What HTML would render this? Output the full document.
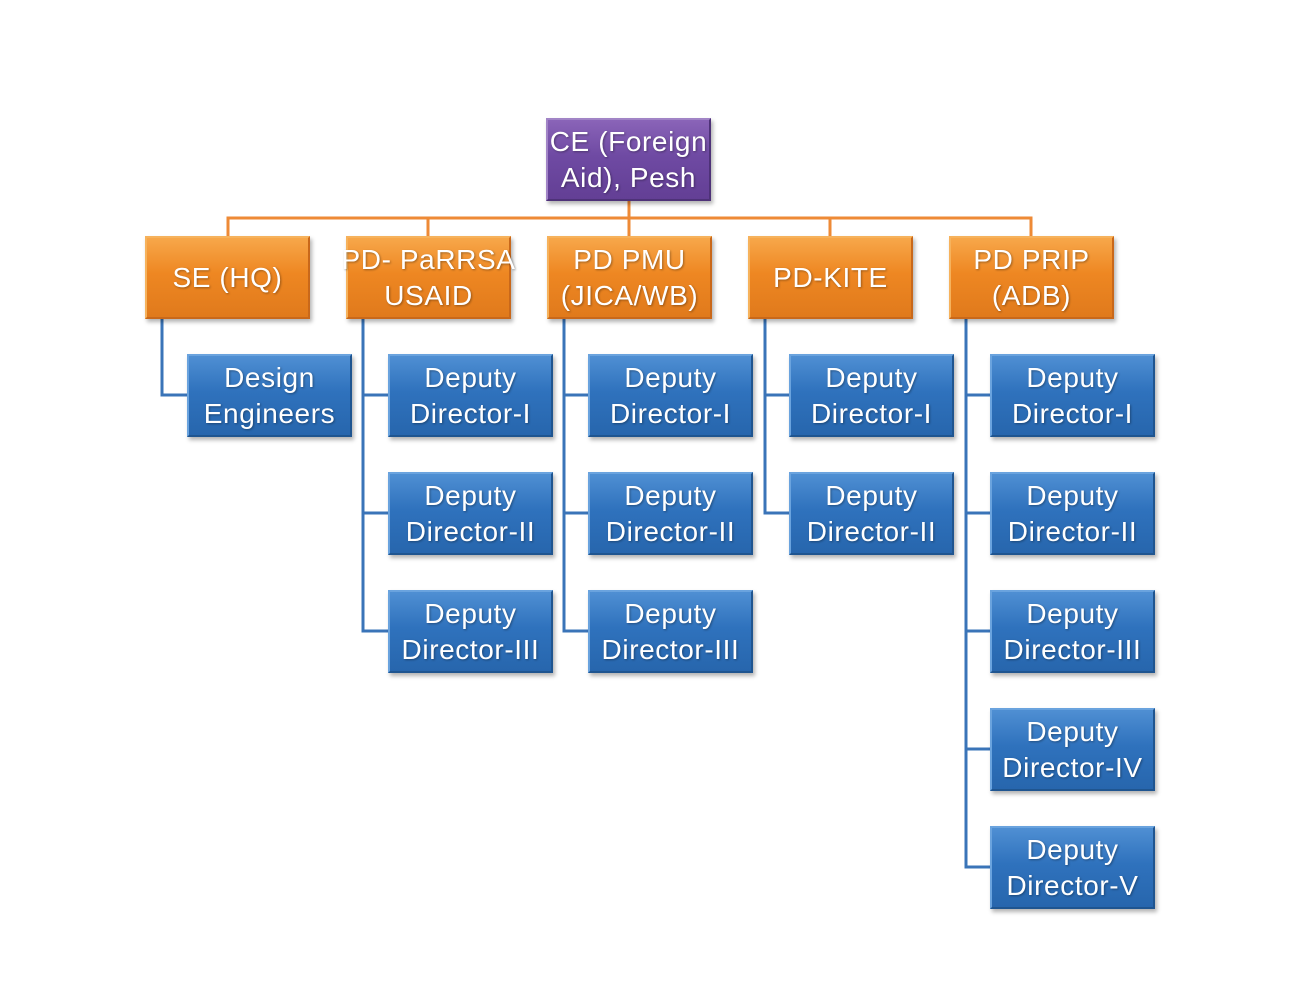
<!DOCTYPE html>
<html><head><meta charset="utf-8"><style>
html,body{margin:0;padding:0;background:#fff;}
body{width:1313px;height:1001px;position:relative;overflow:hidden;font-family:"Liberation Sans",sans-serif;}
.b{position:absolute;width:165px;height:83px;box-sizing:border-box;display:flex;align-items:center;justify-content:center;text-align:center;color:#fff;font-size:28px;line-height:36px;text-shadow:1px 1px 2px rgba(0,0,0,.35);box-shadow:2px 3px 4px rgba(0,0,0,.3);white-space:nowrap;letter-spacing:0.6px;padding-bottom:0px}
.o{background:linear-gradient(#f7a74a,#ee8722 45%,#e07a1c);border:2px solid #f6b25c;border-right-color:#c9681a;border-bottom-color:#c9681a}
.u{background:linear-gradient(#4f8fd3,#2f72bd 45%,#2766ad);border:2px solid #6aa3de;border-right-color:#1f5590;border-bottom-color:#1f5590}
.p{background:linear-gradient(#8a64b8,#6f4aa3 45%,#633f95);border:2px solid #a184c6;border-right-color:#4e3278;border-bottom-color:#4e3278}
</style></head><body>
<svg width="1313" height="1001" style="position:absolute;left:0;top:0">
<g stroke="#ee8a36" stroke-width="3" fill="none">
<path d="M629 201V218M228 236V218H1031V236M428 218V236M629 218V236M830 218V236"/>
</g>
<g stroke="#3a74b8" stroke-width="3" fill="none">
<path d="M162 319V395H187"/>
<path d="M363 319V631H388M363 395H388M363 513H388"/>
<path d="M564 319V631H588M564 395H588M564 513H588"/>
<path d="M765 319V513H789M765 395H789"/>
<path d="M966 319V867H990M966 395H990M966 513H990M966 631H990M966 749H990"/>
</g>
</svg>
<div class="b p" style="left:546px;top:118px">CE (Foreign<br>Aid), Pesh</div>
<div class="b o" style="left:145px;top:236px">SE (HQ)</div>
<div class="b o" style="left:346px;top:236px">PD- PaRRSA<br>USAID</div>
<div class="b o" style="left:547px;top:236px">PD PMU<br>(JICA/WB)</div>
<div class="b o" style="left:748px;top:236px">PD-KITE</div>
<div class="b o" style="left:949px;top:236px">PD PRIP<br>(ADB)</div>
<div class="b u" style="left:187px;top:354px">Design<br>Engineers</div>
<div class="b u" style="left:388px;top:354px">Deputy<br>Director-I</div>
<div class="b u" style="left:388px;top:472px">Deputy<br>Director-II</div>
<div class="b u" style="left:388px;top:590px">Deputy<br>Director-III</div>
<div class="b u" style="left:588px;top:354px">Deputy<br>Director-I</div>
<div class="b u" style="left:588px;top:472px">Deputy<br>Director-II</div>
<div class="b u" style="left:588px;top:590px">Deputy<br>Director-III</div>
<div class="b u" style="left:789px;top:354px">Deputy<br>Director-I</div>
<div class="b u" style="left:789px;top:472px">Deputy<br>Director-II</div>
<div class="b u" style="left:990px;top:354px">Deputy<br>Director-I</div>
<div class="b u" style="left:990px;top:472px">Deputy<br>Director-II</div>
<div class="b u" style="left:990px;top:590px">Deputy<br>Director-III</div>
<div class="b u" style="left:990px;top:708px">Deputy<br>Director-IV</div>
<div class="b u" style="left:990px;top:826px">Deputy<br>Director-V</div>
</body></html>
